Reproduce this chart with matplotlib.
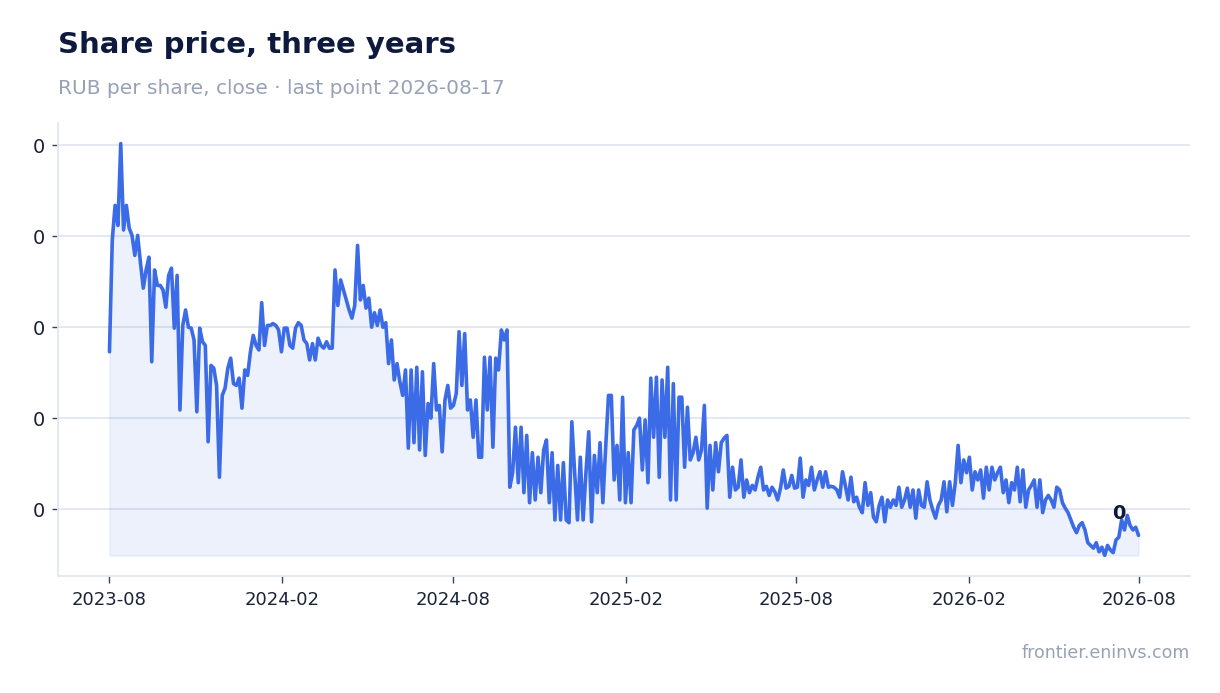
import numpy as np
import pandas as pd
import matplotlib
matplotlib.use("Agg")
import matplotlib.pyplot as plt
import matplotlib.dates as mdates
from matplotlib.ticker import FormatStrFormatter

# ---- data -------------------------------------------------------------
start_date = "2023-08-17"
last_date = "2026-08-17"
# closing price, thousandths of a rouble, one reading every ~3 days
close_mrub = [
    27.3, 39.6, 43.4, 41.2, 50.2, 40.7, 43.4, 40.9, 40.1, 37.9,
    40.1, 37.1, 34.3, 36.3, 37.7, 26.2, 36.3, 34.6, 34.6, 34.1,
    32.2, 35.7, 36.5, 29.9, 35.7, 20.9, 30.2, 31.9, 30.0, 29.9,
    28.6, 20.7, 29.9, 28.4, 28.0, 17.4, 25.8, 25.5, 23.6, 13.5,
    22.5, 23.3, 25.5, 26.6, 23.8, 23.6, 24.4, 21.1, 25.3, 24.7,
    27.3, 29.1, 28.0, 27.5, 32.7, 28.0, 30.2, 30.2, 30.4, 30.2,
    29.7, 27.3, 29.9, 29.9, 28.0, 27.7, 29.9, 30.5, 30.2, 28.6,
    28.2, 26.4, 28.2, 26.4, 28.8, 28.0, 27.7, 28.4, 27.7, 27.7,
    36.3, 32.4, 35.2, 34.1, 33.0, 31.9, 31.0, 32.4, 39.0, 33.0,
    34.6, 32.1, 33.2, 30.0, 31.6, 30.2, 31.9, 30.0, 30.5, 26.0,
    28.6, 24.2, 26.0, 24.0, 22.5, 25.3, 16.7, 25.3, 17.3, 25.6,
    16.5, 25.1, 15.9, 21.6, 20.0, 26.0, 20.9, 21.4, 16.3, 22.0,
    23.6, 21.1, 21.4, 22.7, 29.5, 23.6, 29.3, 20.9, 22.0, 17.9,
    22.0, 15.7, 15.7, 26.7, 20.9, 26.7, 16.8, 26.6, 25.3, 29.7,
    28.6, 29.7, 12.4, 14.0, 19.0, 12.9, 19.0, 11.8, 18.1, 10.7,
    16.2, 11.0, 15.7, 11.8, 16.5, 17.6, 10.7, 16.2, 8.8, 14.8,
    8.8, 15.1, 8.8, 8.5, 19.6, 14.0, 8.8, 15.7, 8.8, 14.0,
    18.5, 8.6, 15.9, 11.8, 17.3, 10.7, 16.8, 22.5, 22.5, 13.2,
    17.0, 11.0, 22.3, 10.7, 16.2, 10.7, 18.7, 19.2, 20.0, 14.3,
    19.8, 12.9, 24.4, 17.9, 24.5, 13.5, 24.2, 17.9, 25.6, 11.0,
    23.8, 11.0, 22.3, 22.3, 14.6, 21.2, 15.4, 16.2, 17.9, 15.4,
    16.5, 21.4, 10.1, 17.0, 12.1, 17.3, 14.1, 17.3, 17.8, 18.1,
    11.3, 14.6, 12.1, 12.4, 15.4, 11.3, 13.2, 11.8, 12.6, 12.1,
    13.5, 14.6, 12.1, 12.5, 11.5, 12.4, 11.9, 11.0, 12.3, 14.3,
    12.3, 12.5, 13.7, 12.3, 12.4, 15.6, 11.3, 13.2, 12.6, 14.6,
    12.1, 13.2, 14.1, 12.4, 14.1, 12.4, 12.5, 12.4, 12.1, 11.3,
    14.1, 12.6, 11.0, 13.5, 10.8, 11.3, 10.2, 9.6, 12.9, 10.4,
    11.8, 9.1, 8.6, 10.4, 11.3, 8.6, 11.0, 10.2, 11.0, 10.4,
    12.4, 10.2, 11.0, 12.3, 10.2, 12.1, 9.0, 12.1, 10.4, 10.2,
    13.0, 11.0, 9.9, 9.0, 10.4, 11.0, 13.0, 9.7, 13.0, 10.4,
    12.9, 17.0, 12.9, 15.4, 14.0, 15.7, 12.1, 14.1, 13.2, 14.3,
    11.2, 14.6, 12.1, 14.6, 13.2, 14.0, 14.6, 11.8, 13.2, 10.7,
    12.9, 12.1, 14.6, 10.8, 14.3, 10.2, 12.1, 12.6, 13.2, 10.2,
    13.2, 9.6, 11.0, 11.5, 11.0, 10.2, 12.4, 12.1, 10.7, 10.1,
    9.6, 8.8, 8.0, 7.4, 8.2, 8.5, 7.7, 6.3, 6.0, 5.7,
    6.3, 5.3, 5.8, 4.9, 6.0, 5.5, 5.2, 6.6, 6.9, 8.8,
    7.7, 9.3, 8.2, 7.7, 8.0, 7.1,
]
close_rub = np.array(close_mrub) / 1000.0
dates = pd.date_range(start_date, last_date, periods=len(close_rub))

y_ticks = [0.01, 0.02, 0.03, 0.04, 0.05]
x_ticks = pd.to_datetime(["2023-08-17", "2024-02-17", "2024-08-17", "2025-02-17",
                          "2025-08-17", "2026-02-17", "2026-08-17"])

title = "Share price, three years"
subtitle = "RUB per share, close \u00b7 last point 2026-08-17"
source = "frontier.eninvs.com"

# ---- style ------------------------------------------------------------
navy = "#0d1a3d"
grey = "#98a2b5"
blue = "#3b6be6"
grid_c = "#e2e6f0"

plt.rcParams["font.family"] = ["DejaVu Sans"]

fig = plt.figure(figsize=(12.2, 6.93), dpi=100)
ax = fig.add_axes([58 / 1220, 1 - 576 / 693, (1190 - 58) / 1220, (576 - 123) / 693])

ax.fill_between(dates, close_rub, close_rub.min(), color=blue, alpha=0.09,
                linewidth=1.0, zorder=1)
ax.plot(dates, close_rub, color=blue, linewidth=2.6, solid_joinstyle="round",
        solid_capstyle="round", zorder=3)

ax.margins(x=0.05, y=0.05)
ax.set_yticks(y_ticks)
ax.yaxis.set_major_formatter(FormatStrFormatter("%.0f"))
ax.set_xticks(x_ticks)
ax.xaxis.set_major_formatter(mdates.DateFormatter("%Y-%m"))

ax.grid(axis="y", color=grid_c, linewidth=1.3, zorder=0)
ax.set_axisbelow(True)
for s in ["top", "right"]:
    ax.spines[s].set_visible(False)
for s in ["left", "bottom"]:
    ax.spines[s].set_color(grid_c)
    ax.spines[s].set_linewidth(1.3)

ax.tick_params(axis="y", length=4.5, width=1.0, color="#3a4152", pad=5,
               labelsize=14, labelcolor="#1a2235")
ax.tick_params(axis="x", length=4.8, width=1.0, color="#3a4152", pad=6,
               labelsize=13, labelcolor="#1a2235")

last_val = close_rub[-1]
ax.annotate(f"{last_val:.0f}", xy=(dates[-1], last_val), xytext=(-14, 16),
            textcoords="offset points", ha="center", va="center",
            fontsize=14, fontweight="bold", color=navy, zorder=5)

fig.text(58 / 1220, 1 - 53 / 693, title, fontsize=21, fontweight="bold",
         color=navy, ha="left", va="baseline")
fig.text(58 / 1220, 1 - 94 / 693, subtitle, fontsize=14.5, color=grey,
         ha="left", va="baseline")
fig.text(1190 / 1220, 1 - 658 / 693, source, fontsize=12.5, color=grey,
         ha="right", va="baseline")

fig.savefig("out.png", dpi=100)
